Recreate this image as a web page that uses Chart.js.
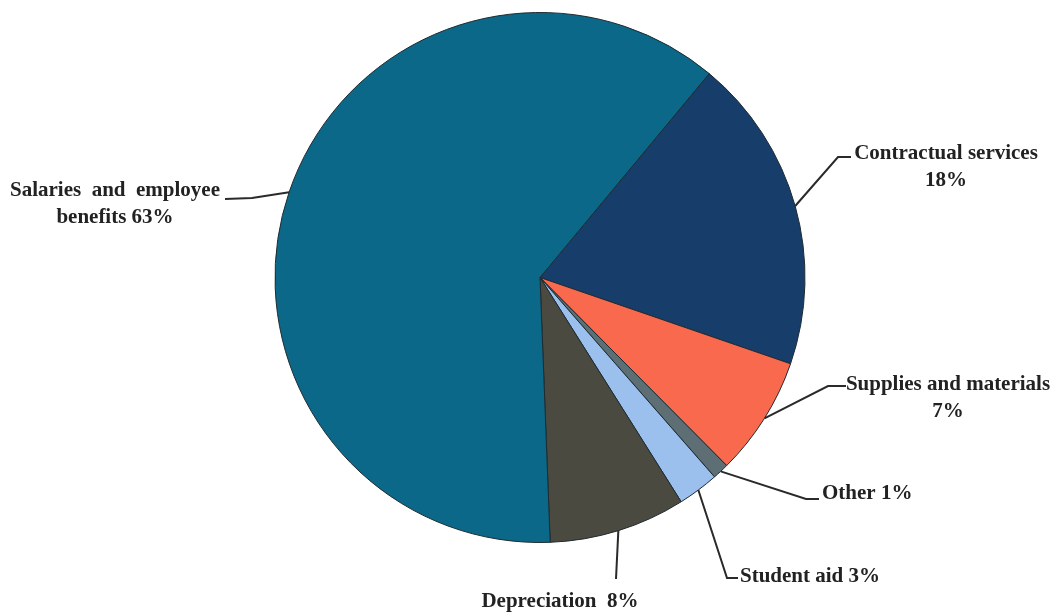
<!DOCTYPE html>
<html>
<head>
<meta charset="utf-8">
<script src="https://cdn.jsdelivr.net/npm/chart.js@4"></script>
<style>
  html, body { margin: 0; padding: 0; background: #fff; }
  #wrap { width: 1053px; height: 613px; position: relative; }
</style>
</head>
<body>
<div id="wrap"><canvas id="expenseChart"></canvas></div>
<script>
// ===== Data =====
const categories = ['Contractual services', 'Supplies and materials', 'Other', 'Student aid', 'Depreciation', 'Salaries and employee benefits'];
const shares = [19.25, 7.28, 1.0, 2.5, 8.33, 61.64];
// printed labels
const labelLines = [
    ['Contractual services', '18%'],
    ['Supplies and materials', '7%'],
    ['Other 1%'],
    ['Student aid 3%'],
    ['Depreciation  8%'],
    ['Salaries  and  employee', 'benefits 63%']
];
const sliceColors = ['#173d6b', '#f9694d', '#5d6f74', '#9cc0ee', '#4b4a40', '#0c6889'];

// ===== Label layout (text anchor, elbow, line end) =====
const labelLayout = [
    { x: 946, y: 154, align: 'center', elbow: [838, 157], end: [851, 157] },
    { x: 948, y: 385, align: 'center', elbow: [828, 386], end: [846, 386] },
    { x: 822, y: 494, align: 'left', elbow: [806, 499], end: [819, 499] },
    { x: 740, y: 577, align: 'left', elbow: [727, 578], end: [738, 578] },
    { x: 560, y: 602, align: 'center', elbow: [616, 579], end: [616, 579] },
    { x: 115, y: 191, align: 'center', elbow: [252, 198], end: [225, 199] }
];

const leaderLabels = {
    id: 'leaderLabels',
    afterDraw(chart) {
        const ctx = chart.ctx;
        const arcs = chart.getDatasetMeta(0).data;
        ctx.save();
        ctx.strokeStyle = '#2a2a2a';
        ctx.lineWidth = 2;
        ctx.fillStyle = '#222';
        ctx.font = 'bold 21px "Liberation Serif", "DejaVu Serif", serif';
        ctx.textBaseline = 'middle';
        arcs.forEach((arc, i) => {
            const lay = labelLayout[i];
            const mid = (arc.startAngle + arc.endAngle) / 2;
            const ax = arc.x + Math.cos(mid) * arc.outerRadius;
            const ay = arc.y + Math.sin(mid) * arc.outerRadius;
            ctx.beginPath();
            ctx.moveTo(ax, ay);
            ctx.lineTo(lay.elbow[0], lay.elbow[1]);
            ctx.lineTo(lay.end[0], lay.end[1]);
            ctx.stroke();
            ctx.textAlign = lay.align;
            labelLines[i].forEach((t, k) => {
                ctx.fillText(t, lay.x, lay.y + k * 27);
            });
        });
        ctx.restore();
    }
};

const ctx = document.getElementById('expenseChart').getContext('2d');
new Chart(ctx, {
    type: 'pie',
    data: {
        labels: categories,
        datasets: [{
            data: shares,
            backgroundColor: sliceColors,
            borderColor: '#1d2b30',
            borderWidth: 1
        }]
    },
    options: {
        responsive: true,
        maintainAspectRatio: false,
        animation: false,
        rotation: 39.7,
        layout: { padding: { top: 12, bottom: 70, left: 100, right: 73 } },
        plugins: {
            legend: { display: false },
            tooltip: { enabled: false }
        }
    },
    plugins: [leaderLabels]
});
</script>
</body>
</html>
